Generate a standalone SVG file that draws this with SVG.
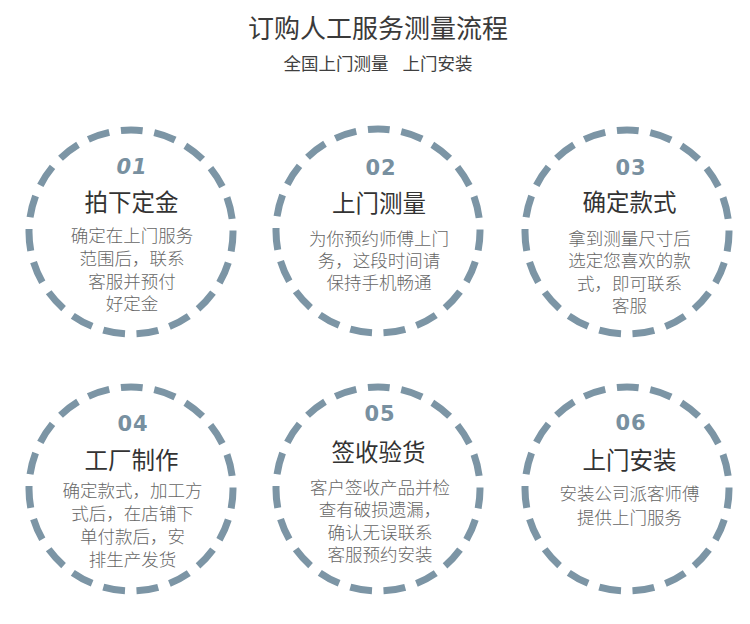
<svg xmlns="http://www.w3.org/2000/svg" width="750" height="624" viewBox="0 0 750 624">
<style>
text{font-family:"Noto Sans CJK SC","Noto Sans",sans-serif;text-anchor:middle}
.title{font-size:26px;fill:#3a3a3a}
.sub{font-size:17.5px;fill:#3f3f3f}
.ring{fill:none;stroke:#7c95a5;stroke-width:7;stroke-dasharray:22 11.73;stroke-dashoffset:2.56}
.num{font-family:"DejaVu Sans",sans-serif;font-weight:bold;font-size:21px;fill:#7890a0;letter-spacing:1px}
.head{font-size:23.5px;fill:#333}
.body{font-size:17.5px;fill:#666;font-weight:300}
</style>
<rect width="750" height="624" fill="#fff"/>
<text class="title" x="378" y="38">订购人工服务测量流程</text>
<text class="sub" x="378" y="69.5">全国上门测量<tspan dx="14">上门安装</tspan></text>
<g id="connectors"/>
<g id="step1">
<circle class="ring" cx="131" cy="232" r="102"/>
<text class="num" x="132" y="174" font-style="italic">01</text>
<text class="head" x="131.5" y="211">拍下定金</text>
<text class="body" x="132" y="241.5">确定在上门服务</text>
<text class="body" x="132" y="264.5">范围后，联系</text>
<text class="body" x="132" y="287.5">客服并预付</text>
<text class="body" x="132" y="310">好定金</text>
</g>
<g id="step2">
<circle class="ring" cx="378" cy="231" r="102"/>
<text class="num" x="381" y="175">02</text>
<text class="head" x="379" y="212">上门测量</text>
<text class="body" x="379" y="244.5">为你预约师傅上门</text>
<text class="body" x="379" y="266.5">务，这段时间请</text>
<text class="body" x="379" y="288.5">保持手机畅通</text>
</g>
<g id="step3">
<circle class="ring" cx="627" cy="232" r="102"/>
<text class="num" x="631" y="175">03</text>
<text class="head" x="629.5" y="211">确定款式</text>
<text class="body" x="629.5" y="244.5">拿到测量尺寸后</text>
<text class="body" x="629.5" y="266.5">选定您喜欢的款</text>
<text class="body" x="629.5" y="289.5">式，即可联系</text>
<text class="body" x="629.5" y="311.5">客服</text>
</g>
<g id="step4">
<circle class="ring" cx="131" cy="489" r="102"/>
<text class="num" x="133" y="431">04</text>
<text class="head" x="131.5" y="469">工厂制作</text>
<text class="body" x="132.5" y="496.5">确定款式，加工方</text>
<text class="body" x="132.5" y="519.5">式后，在店铺下</text>
<text class="body" x="132.5" y="543">单付款后，安</text>
<text class="body" x="132.5" y="566">排生产发货</text>
</g>
<g id="step5">
<circle class="ring" cx="378" cy="489" r="102"/>
<text class="num" x="380" y="421">05</text>
<text class="head" x="378.5" y="461">签收验货</text>
<text class="body" x="380" y="493.5">客户签收产品并检</text>
<text class="body" x="380" y="515.5">查有破损遗漏，</text>
<text class="body" x="380" y="538.5">确认无误联系</text>
<text class="body" x="380" y="560.5">客服预约安装</text>
</g>
<g id="step6">
<circle class="ring" cx="627" cy="489" r="102"/>
<text class="num" x="631" y="430">06</text>
<text class="head" x="629.5" y="469">上门安装</text>
<text class="body" x="629.5" y="499.5">安装公司派客师傅</text>
<text class="body" x="629.5" y="523.5">提供上门服务</text>
</g>
</svg>
